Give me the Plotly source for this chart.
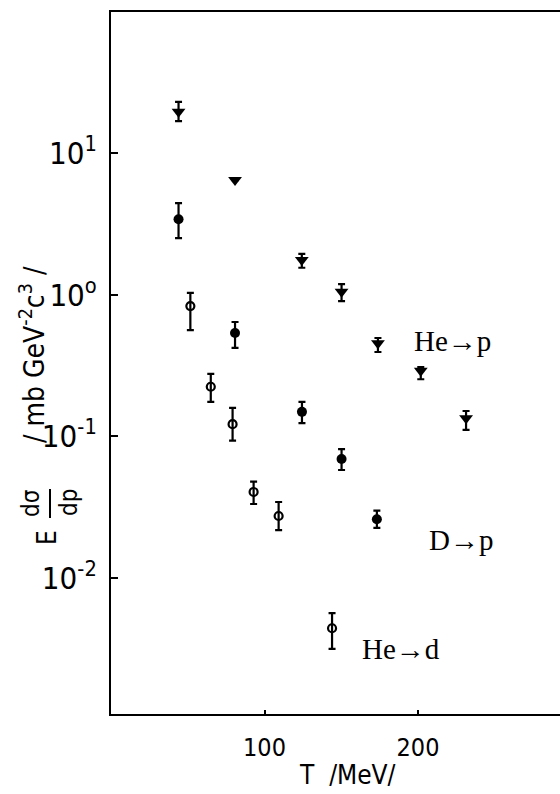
import plotly.graph_objects as go

# ---- data (T in MeV, E d^3sigma/dp^3 in mb GeV^-2 c^3) ----
hep_T = [44.0, 80.8, 124.3, 150.2, 173.9, 201.8, 231.3]
hep_v = [19.6, 6.45, 1.76, 1.05, 0.454, 0.291, 0.134]
hep_hi = [23.0, 6.45, 1.94, 1.19, 0.495, 0.308, 0.151]
hep_lo = [16.8, 6.45, 1.55, 0.90, 0.394, 0.253, 0.111]

dp_T = [44.0, 80.8, 124.4, 150.2, 173.2]
dp_v = [3.41, 0.537, 0.149, 0.0692, 0.0260]
dp_hi = [4.44, 0.642, 0.175, 0.0814, 0.0299]
dp_lo = [2.51, 0.421, 0.124, 0.0579, 0.0226]

hed_T = [51.7, 65.0, 79.2, 92.9, 109.2, 144.0]
hed_v = [0.832, 0.224, 0.122, 0.0405, 0.0274, 0.00442]
hed_hi = [1.03, 0.276, 0.159, 0.0479, 0.0344, 0.00566]
hed_lo = [0.563, 0.175, 0.0932, 0.0333, 0.0218, 0.00316]

x_tickvals = [100, 200]
x_ticktext = ["100", "200"]
y_tickvals = [10, 1, 0.1, 0.01]
y_ticktext = ["10<sup>1</sup>", "10<sup>o</sup>", "10<sup>-1</sup>", "10<sup>-2</sup>"]

NARROW = "Liberation Sans Narrow, DejaVu Sans Condensed, Liberation Sans, sans-serif"
SERIF = "Liberation Serif, DejaVu Serif, serif"


def err(v, hi, lo):
    return dict(type="data", symmetric=False,
                array=[h - a for a, h in zip(v, hi)],
                arrayminus=[a - l for a, l in zip(v, lo)],
                color="black", thickness=2.2, width=3.5)


fig = go.Figure()
fig.add_trace(go.Scatter(x=hep_T, y=hep_v, mode="markers", name="He→p",
                         marker=dict(symbol="triangle-down", size=12, color="black"),
                         error_y=err(hep_v, hep_hi, hep_lo)))
fig.add_trace(go.Scatter(x=dp_T, y=dp_v, mode="markers", name="D→p",
                         marker=dict(symbol="circle", size=10, color="black"),
                         error_y=err(dp_v, dp_hi, dp_lo)))
fig.add_trace(go.Scatter(x=hed_T, y=hed_v, mode="markers", name="He→d",
                         marker=dict(symbol="circle-open", size=8, color="black",
                                     line=dict(width=2.2, color="black")),
                         error_y=err(hed_v, hed_hi, hed_lo)))

L, R, T, B = 111, 560, 12, 714
W, H = 560, 794


def px(p):
    return (p - L) / (R - L)


def py(p):
    return (B - p) / (B - T)


annots = [
    dict(text="He→p", x=px(452), y=py(341), font=dict(family=SERIF, size=29)),
    dict(text="D→p", x=px(461), y=py(540), font=dict(family=SERIF, size=29)),
    dict(text="He→d", x=px(401), y=py(649), font=dict(family=SERIF, size=29)),
    dict(text="T  /MeV/", x=px(347), y=py(775), font=dict(family=NARROW, size=26)),
    dict(text="/ mb GeV<sup>-2</sup>c<sup>3</sup> /", x=px(32), y=py(355), textangle=-90,
         font=dict(family=NARROW, size=28)),
    dict(text="E", x=px(47), y=py(538), textangle=-90, font=dict(family=NARROW, size=26)),
    dict(text="dσ", x=px(31), y=py(503), textangle=-90, font=dict(family=NARROW, size=24)),
    dict(text="dp", x=px(69), y=py(503), textangle=-90, font=dict(family=NARROW, size=24)),
]
for a in annots:
    a.update(xref="paper", yref="paper", showarrow=False, xanchor="center", yanchor="middle")
    a["font"]["color"] = "black"

fig.update_layout(
    width=W, height=H,
    margin=dict(l=L, r=W - R, t=T, b=H - B),
    paper_bgcolor="white", plot_bgcolor="white",
    showlegend=False,
    annotations=annots,
    shapes=[dict(type="line", xref="paper", yref="paper", x0=px(50), x1=px(50),
                 y0=py(489), y1=py(518), line=dict(color="black", width=2))],
    xaxis=dict(range=[0, 292.5], showline=True, mirror=True, linecolor="black", linewidth=2,
               showgrid=False, zeroline=False, ticks="inside", ticklen=4, tickwidth=2,
               tickcolor="black", tickvals=x_tickvals, ticktext=x_ticktext,
               tickfont=dict(family=NARROW, size=25, color="black"), ticklabelstandoff=10),
    yaxis=dict(type="log", range=[-2.96, 1.996], showline=True, mirror=False, linecolor="black",
               linewidth=2, showgrid=False, zeroline=False, ticks="inside", ticklen=7,
               tickwidth=2, tickcolor="black", tickvals=y_tickvals, ticktext=y_ticktext,
               tickfont=dict(family=NARROW, size=31, color="black"), ticklabelstandoff=6),
)

fig.write_html("out.html")
